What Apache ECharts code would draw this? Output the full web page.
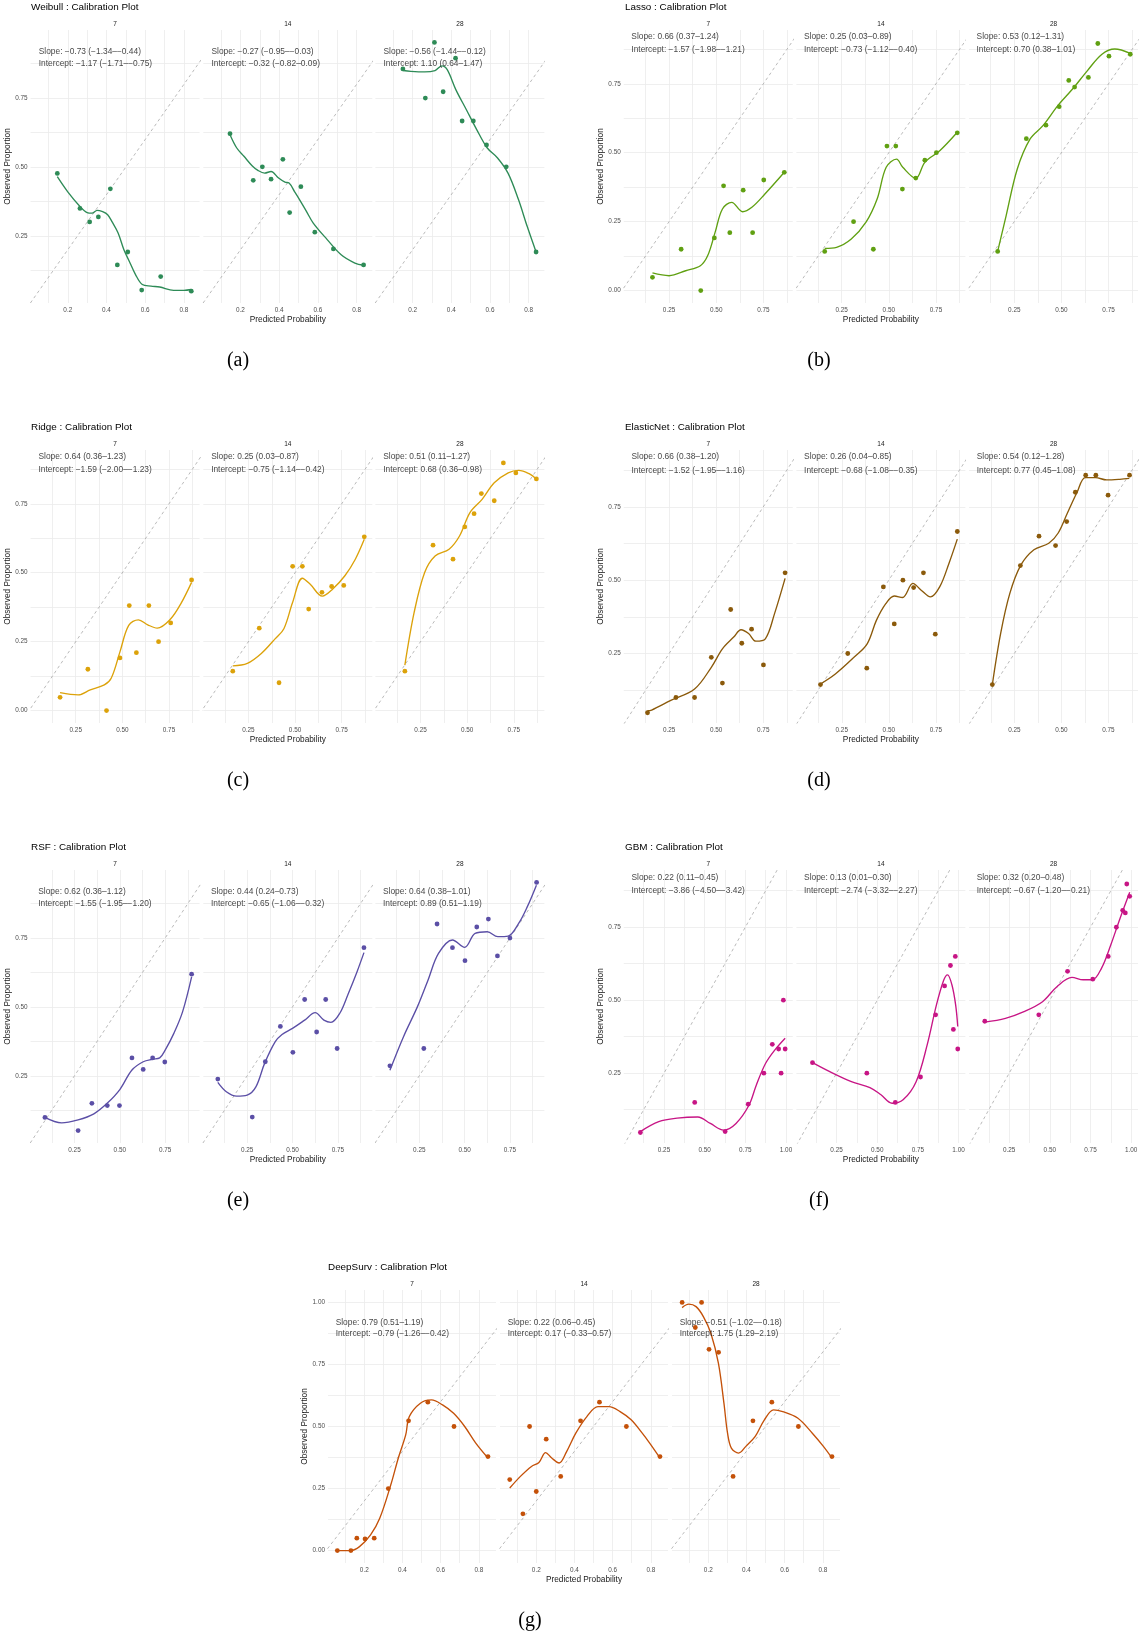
<!DOCTYPE html>
<html><head><meta charset="utf-8">
<script src="https://cdn.jsdelivr.net/npm/echarts@6/dist/echarts.min.js"></script>
<style>html,body{margin:0;padding:0;background:#fff}#c{width:1141px;height:1639px}</style>
</head><body><div id="c"></div>
<script>
// ---------------- DATA ----------------
const facetLabels = ['7', '14', '28'];
const modelNames = ['Weibull', 'Lasso', 'Ridge', 'ElasticNet', 'RSF', 'GBM', 'DeepSurv'];
const captions = ['(a)', '(b)', '(c)', '(d)', '(e)', '(f)', '(g)'];

const xTicksTenths = [0.2, 0.4, 0.6, 0.8];
const xTicksQuarters = [0.25, 0.5, 0.75];
const xTicksQuartersTo1 = [0.25, 0.5, 0.75, 1.0];
const yTicks = [0, 0.25, 0.5, 0.75, 1.0];

// Weibull
const weibull7Obs = [[0.146,0.477],[0.263,0.35],[0.313,0.301],[0.358,0.319],[0.42,0.421],[0.456,0.145],[0.51,0.192],[0.582,0.054],[0.68,0.103],[0.838,0.05]];
const weibull7Fit = [[0.146,0.465],[0.2,0.41],[0.263,0.357],[0.3,0.335],[0.325,0.333],[0.352,0.343],[0.38,0.338],[0.406,0.327],[0.43,0.3],[0.46,0.261],[0.49,0.2],[0.514,0.164],[0.55,0.11],[0.585,0.074],[0.63,0.068],[0.675,0.065],[0.747,0.053],[0.8,0.053],[0.838,0.056]];
const weibull14Obs = [[0.146,0.621],[0.266,0.452],[0.313,0.501],[0.358,0.456],[0.419,0.528],[0.454,0.335],[0.512,0.429],[0.584,0.264],[0.68,0.203],[0.836,0.145]];
const weibull14Fit = [[0.146,0.617],[0.18,0.57],[0.218,0.539],[0.26,0.505],[0.29,0.488],[0.325,0.478],[0.358,0.484],[0.397,0.46],[0.43,0.445],[0.451,0.442],[0.48,0.41],[0.505,0.382],[0.54,0.34],[0.576,0.297],[0.648,0.237],[0.72,0.182],[0.791,0.152],[0.836,0.144]];
const weibull28Obs = [[0.15,0.856],[0.266,0.75],[0.313,0.952],[0.358,0.773],[0.422,0.895],[0.456,0.667],[0.514,0.667],[0.582,0.58],[0.684,0.501],[0.838,0.192]];
const weibull28Fit = [[0.15,0.85],[0.191,0.847],[0.263,0.845],[0.316,0.85],[0.352,0.867],[0.379,0.853],[0.424,0.78],[0.478,0.708],[0.532,0.635],[0.586,0.569],[0.639,0.533],[0.693,0.478],[0.747,0.382],[0.792,0.285],[0.838,0.192]];
const weibullSlope = ['Slope: −0.73 (−1.34–−0.44)', 'Slope: −0.27 (−0.95–−0.03)', 'Slope: −0.56 (−1.44–−0.12)'];
const weibullIntercept = ['Intercept: −1.17 (−1.71–−0.75)', 'Intercept: −0.32 (−0.82–0.09)', 'Intercept: 1.10 (0.64–1.47)'];

// Lasso
const lasso7Obs = [[0.162,0.048],[0.314,0.15],[0.418,0.0],[0.49,0.191],[0.539,0.38],[0.572,0.21],[0.643,0.364],[0.693,0.21],[0.752,0.401],[0.861,0.429]];
const lasso7Fit = [[0.162,0.064],[0.25,0.054],[0.338,0.072],[0.416,0.09],[0.455,0.127],[0.494,0.211],[0.533,0.296],[0.582,0.32],[0.64,0.286],[0.689,0.302],[0.758,0.35],[0.861,0.429]];
const lasso14Obs = [[0.16,0.142],[0.313,0.25],[0.418,0.15],[0.49,0.524],[0.537,0.524],[0.572,0.368],[0.643,0.408],[0.691,0.473],[0.752,0.5],[0.863,0.572]];
const lasso14Fit = [[0.16,0.153],[0.223,0.157],[0.301,0.187],[0.379,0.248],[0.438,0.332],[0.486,0.447],[0.541,0.477],[0.574,0.447],[0.643,0.407],[0.691,0.465],[0.77,0.507],[0.863,0.574]];
const lasso28Obs = [[0.162,0.142],[0.314,0.551],[0.418,0.6],[0.488,0.667],[0.539,0.762],[0.57,0.738],[0.643,0.773],[0.693,0.896],[0.752,0.85],[0.865,0.857]];
const lasso28Fit = [[0.162,0.142],[0.207,0.272],[0.266,0.441],[0.334,0.55],[0.402,0.598],[0.48,0.67],[0.559,0.731],[0.637,0.797],[0.715,0.857],[0.783,0.876],[0.865,0.86]];
const lassoSlope = ['Slope: 0.66 (0.37–1.24)', 'Slope: 0.25 (0.03–0.89)', 'Slope: 0.53 (0.12–1.31)'];
const lassoIntercept = ['Intercept: −1.57 (−1.98–−1.21)', 'Intercept: −0.73 (−1.12–−0.40)', 'Intercept: 0.70 (0.38–1.01)'];

// Ridge
const ridge7Obs = [[0.166,0.048],[0.315,0.15],[0.415,0.0],[0.487,0.191],[0.537,0.381],[0.575,0.21],[0.642,0.381],[0.694,0.25],[0.759,0.318],[0.871,0.474]];
const ridge7Fit = [[0.166,0.065],[0.263,0.057],[0.328,0.075],[0.403,0.093],[0.44,0.117],[0.487,0.213],[0.534,0.309],[0.586,0.329],[0.636,0.311],[0.687,0.299],[0.757,0.331],[0.813,0.387],[0.871,0.465]];
const ridge14Obs = [[0.166,0.143],[0.308,0.299],[0.414,0.101],[0.487,0.523],[0.539,0.523],[0.573,0.368],[0.644,0.429],[0.696,0.45],[0.761,0.454],[0.871,0.63]];
const ridge14Fit = [[0.166,0.162],[0.244,0.171],[0.319,0.207],[0.394,0.261],[0.44,0.297],[0.487,0.393],[0.539,0.48],[0.58,0.459],[0.646,0.415],[0.702,0.441],[0.767,0.489],[0.823,0.549],[0.871,0.621]];
const ridge28Obs = [[0.166,0.143],[0.317,0.6],[0.424,0.549],[0.487,0.666],[0.537,0.714],[0.576,0.787],[0.645,0.761],[0.694,0.898],[0.761,0.862],[0.871,0.84]];
const ridge28Fit = [[0.166,0.165],[0.216,0.357],[0.272,0.501],[0.328,0.561],[0.403,0.585],[0.459,0.633],[0.515,0.718],[0.58,0.766],[0.645,0.826],[0.72,0.862],[0.776,0.871],[0.832,0.859],[0.871,0.84]];
const ridgeSlope = ['Slope: 0.64 (0.36–1.23)', 'Slope: 0.25 (0.03–0.87)', 'Slope: 0.51 (0.11–1.27)'];
const ridgeIntercept = ['Intercept: −1.59 (−2.00–−1.23)', 'Intercept: −0.75 (−1.14–−0.42)', 'Intercept: 0.68 (0.36–0.98)'];

// ElasticNet
const enet7Obs = [[0.135,0.048],[0.286,0.1],[0.385,0.1],[0.474,0.237],[0.533,0.149],[0.577,0.4],[0.636,0.285],[0.688,0.333],[0.751,0.211],[0.866,0.525]];
const enet7Fit = [[0.135,0.055],[0.157,0.057],[0.256,0.089],[0.385,0.129],[0.474,0.203],[0.533,0.266],[0.593,0.306],[0.632,0.331],[0.672,0.318],[0.711,0.292],[0.761,0.3],[0.81,0.386],[0.866,0.506]];
const enet14Obs = [[0.137,0.144],[0.282,0.25],[0.383,0.2],[0.471,0.477],[0.529,0.351],[0.575,0.5],[0.632,0.475],[0.684,0.525],[0.747,0.316],[0.864,0.666]];
const enet14Fit = [[0.137,0.146],[0.216,0.18],[0.315,0.237],[0.385,0.283],[0.434,0.363],[0.484,0.42],[0.529,0.446],[0.573,0.441],[0.628,0.489],[0.672,0.466],[0.721,0.443],[0.771,0.478],[0.82,0.558],[0.864,0.64]];
const enet28Obs = [[0.133,0.144],[0.282,0.55],[0.381,0.65],[0.469,0.618],[0.528,0.7],[0.574,0.8],[0.629,0.858],[0.683,0.858],[0.748,0.79],[0.862,0.858]];
const enet28Fit = [[0.133,0.144],[0.177,0.318],[0.226,0.455],[0.285,0.552],[0.354,0.604],[0.433,0.626],[0.483,0.661],[0.532,0.729],[0.582,0.798],[0.627,0.85],[0.681,0.85],[0.74,0.842],[0.81,0.844],[0.861,0.847]];
const enetSlope = ['Slope: 0.66 (0.38–1.20)', 'Slope: 0.26 (0.04–0.85)', 'Slope: 0.54 (0.12–1.28)'];
const enetIntercept = ['Intercept: −1.52 (−1.95–−1.16)', 'Intercept: −0.68 (−1.08–−0.35)', 'Intercept: 0.77 (0.45–1.08)'];

// RSF
const rsf7Obs = [[0.087,0.099],[0.27,0.051],[0.346,0.15],[0.431,0.142],[0.498,0.142],[0.567,0.315],[0.629,0.273],[0.681,0.315],[0.748,0.3],[0.896,0.619]];
const rsf7Fit = [[0.087,0.099],[0.179,0.079],[0.27,0.09],[0.357,0.112],[0.43,0.15],[0.5,0.2],[0.567,0.271],[0.629,0.301],[0.68,0.31],[0.72,0.315],[0.75,0.343],[0.798,0.404],[0.846,0.482],[0.896,0.609]];
const rsf14Obs = [[0.088,0.238],[0.278,0.1],[0.35,0.301],[0.433,0.429],[0.502,0.335],[0.567,0.527],[0.633,0.409],[0.683,0.527],[0.746,0.349],[0.894,0.715]];
const rsf14Fit = [[0.088,0.226],[0.135,0.192],[0.192,0.176],[0.25,0.18],[0.298,0.21],[0.346,0.295],[0.404,0.373],[0.442,0.4],[0.5,0.422],[0.567,0.452],[0.625,0.479],[0.673,0.452],[0.712,0.444],[0.76,0.476],[0.808,0.549],[0.856,0.628],[0.894,0.697]];
const rsf28Obs = [[0.088,0.286],[0.275,0.349],[0.348,0.801],[0.433,0.715],[0.502,0.668],[0.567,0.79],[0.631,0.819],[0.681,0.685],[0.75,0.75],[0.897,0.952]];
const rsf28Fit = [[0.088,0.27],[0.163,0.392],[0.24,0.501],[0.298,0.597],[0.356,0.694],[0.433,0.743],[0.5,0.716],[0.558,0.767],[0.625,0.773],[0.683,0.755],[0.74,0.757],[0.798,0.803],[0.846,0.864],[0.896,0.942]];
const rsfSlope = ['Slope: 0.62 (0.36–1.12)', 'Slope: 0.44 (0.24–0.73)', 'Slope: 0.64 (0.38–1.01)'];
const rsfIntercept = ['Intercept: −1.55 (−1.95–−1.20)', 'Intercept: −0.65 (−1.06–−0.32)', 'Intercept: 0.89 (0.51–1.19)'];

// GBM
const gbm7Obs = [[0.105,0.047],[0.439,0.15],[0.626,0.05],[0.768,0.144],[0.864,0.25],[0.916,0.349],[0.955,0.333],[0.97,0.25],[0.984,0.5],[0.995,0.333]];
const gbm7Fit = [[0.105,0.05],[0.218,0.084],[0.331,0.096],[0.458,0.1],[0.535,0.078],[0.617,0.055],[0.693,0.078],[0.773,0.141],[0.818,0.21],[0.875,0.284],[0.932,0.33],[0.995,0.37]];
const gbm14Obs = [[0.102,0.286],[0.436,0.25],[0.611,0.15],[0.766,0.237],[0.859,0.45],[0.914,0.549],[0.95,0.619],[0.98,0.65],[0.968,0.4],[0.995,0.333]];
const gbm14Fit = [[0.102,0.286],[0.205,0.256],[0.341,0.221],[0.455,0.201],[0.523,0.176],[0.591,0.147],[0.659,0.159],[0.739,0.221],[0.807,0.347],[0.864,0.484],[0.909,0.569],[0.932,0.587],[0.959,0.553],[0.982,0.484],[0.995,0.41]];
const gbm28Obs = [[0.1,0.428],[0.432,0.45],[0.609,0.599],[0.764,0.572],[0.859,0.65],[0.909,0.75],[0.948,0.808],[0.964,0.799],[0.973,0.898],[0.991,0.856]];
const gbm28Fit = [[0.1,0.425],[0.227,0.438],[0.341,0.461],[0.455,0.495],[0.545,0.547],[0.636,0.578],[0.705,0.57],[0.761,0.57],[0.818,0.61],[0.875,0.69],[0.932,0.781],[0.991,0.87]];
const gbmSlope = ['Slope: 0.22 (0.11–0.45)', 'Slope: 0.13 (0.01–0.30)', 'Slope: 0.32 (0.20–0.48)'];
const gbmIntercept = ['Intercept: −3.86 (−4.50–−3.42)', 'Intercept: −2.74 (−3.32–−2.27)', 'Intercept: −0.67 (−1.20–−0.21)'];

// DeepSurv
const deep7Obs = [[0.059,0.0],[0.13,0.0],[0.161,0.05],[0.204,0.047],[0.252,0.05],[0.326,0.25],[0.432,0.523],[0.533,0.598],[0.67,0.5],[0.848,0.379]];
const deep7Fit = [[0.059,0.0],[0.13,0.0],[0.175,0.016],[0.233,0.063],[0.281,0.13],[0.339,0.265],[0.378,0.372],[0.417,0.466],[0.436,0.54],[0.494,0.594],[0.552,0.607],[0.61,0.587],[0.668,0.553],[0.726,0.5],[0.784,0.433],[0.848,0.373]];
const deep14Obs = [[0.061,0.286],[0.13,0.148],[0.165,0.5],[0.2,0.238],[0.252,0.449],[0.328,0.299],[0.432,0.523],[0.531,0.598],[0.672,0.5],[0.848,0.379]];
const deep14Fit = [[0.061,0.252],[0.117,0.299],[0.175,0.339],[0.214,0.355],[0.249,0.395],[0.281,0.373],[0.32,0.353],[0.359,0.399],[0.407,0.473],[0.465,0.54],[0.523,0.58],[0.581,0.58],[0.639,0.56],[0.697,0.527],[0.755,0.473],[0.794,0.433],[0.848,0.373]];
const deep28Obs = [[0.063,1.0],[0.132,0.899],[0.165,1.0],[0.204,0.811],[0.254,0.799],[0.33,0.299],[0.434,0.523],[0.533,0.598],[0.672,0.5],[0.848,0.379]];
const deep28Fit = [[0.063,0.979],[0.098,0.993],[0.136,0.983],[0.175,0.942],[0.214,0.875],[0.253,0.755],[0.282,0.594],[0.301,0.473],[0.321,0.413],[0.359,0.393],[0.397,0.42],[0.446,0.46],[0.494,0.527],[0.542,0.567],[0.59,0.56],[0.668,0.534],[0.745,0.473],[0.803,0.42],[0.848,0.373]];
const deepSlope = ['Slope: 0.79 (0.51–1.19)', 'Slope: 0.22 (0.06–0.45)', 'Slope: −0.51 (−1.02–−0.18)'];
const deepIntercept = ['Intercept: −0.79 (−1.26–−0.42)', 'Intercept: 0.17 (−0.33–0.57)', 'Intercept: 1.75 (1.29–2.19)'];

// annotation anchor (data units)
const annotX = 0.05;
const annotY = [0.92, 0.875];

// ---------------- LAYOUT ----------------
const FF = '"Liberation Sans", Arial, sans-serif';
const rowTops = [0, 420, 840, 1260];
const colLeft = [30.6, 203.3, 375.4];
const colRight = [623.8, 796.4, 969];
const colMid = [328, 500, 672];

const panels = [
  {name: modelNames[0], color: '#2E8B57', obs: [weibull7Obs, weibull14Obs, weibull28Obs], fit: [weibull7Fit, weibull14Fit, weibull28Fit], slope: weibullSlope, icpt: weibullIntercept, xr: [0.008, 0.881], yr: [0.007, 0.997], xt: xTicksTenths, xd: 1, row: 0, cols: colLeft, fw: 169, titleX: 31, cap: captions[0], capX: 238},
  {name: modelNames[1], color: '#60A012', obs: [lasso7Obs, lasso14Obs, lasso28Obs], fit: [lasso7Fit, lasso14Fit, lasso28Fit], slope: lassoSlope, icpt: lassoIntercept, xr: [0.01, 0.906], yr: [-0.045, 0.945], xt: xTicksQuarters, xd: 2, row: 0, cols: colRight, fw: 169, titleX: 625, cap: captions[1], capX: 819},
  {name: modelNames[2], color: '#DCA20A', obs: [ridge7Obs, ridge14Obs, ridge28Obs], fit: [ridge7Fit, ridge14Fit, ridge28Fit], slope: ridgeSlope, icpt: ridgeIntercept, xr: [0.008, 0.914], yr: [-0.045, 0.945], xt: xTicksQuarters, xd: 2, row: 1, cols: colLeft, fw: 169, titleX: 31, cap: captions[2], capX: 238},
  {name: modelNames[3], color: '#8B5A0B', obs: [enet7Obs, enet14Obs, enet28Obs], fit: [enet7Fit, enet14Fit, enet28Fit], slope: enetSlope, icpt: enetIntercept, xr: [0.009, 0.907], yr: [0.013, 0.944], xt: xTicksQuarters, xd: 2, row: 1, cols: colRight, fw: 169, titleX: 625, cap: captions[3], capX: 819},
  {name: modelNames[4], color: '#5B4FA6', obs: [rsf7Obs, rsf14Obs, rsf28Obs], fit: [rsf7Fit, rsf14Fit, rsf28Fit], slope: rsfSlope, icpt: rsfIntercept, xr: [0.008, 0.94], yr: [0.006, 0.997], xt: xTicksQuarters, xd: 2, row: 2, cols: colLeft, fw: 169, titleX: 31, cap: captions[4], capX: 238},
  {name: modelNames[5], color: '#C71585', obs: [gbm7Obs, gbm14Obs, gbm28Obs], fit: [gbm7Fit, gbm14Fit, gbm28Fit], slope: gbmSlope, icpt: gbmIntercept, xr: [0.003, 1.042], yr: [0.011, 0.946], xt: xTicksQuartersTo1, xd: 2, row: 2, cols: colRight, fw: 169, titleX: 625, cap: captions[5], capX: 819},
  {name: modelNames[6], color: '#C45109', obs: [deep7Obs, deep14Obs, deep28Obs], fit: [deep7Fit, deep14Fit, deep28Fit], slope: deepSlope, icpt: deepIntercept, xr: [0.01, 0.89], yr: [-0.05, 1.05], xt: xTicksTenths, xd: 1, row: 3, cols: colMid, fw: 168, titleX: 328, cap: captions[6], capX: 530}
];

function gridValues(range, step) {
  const out = [];
  const k0 = Math.ceil(range[0] / step - 1e-9), k1 = Math.floor(range[1] / step + 1e-9);
  for (let k = k0; k <= k1; k++) out.push(Math.round(k * step * 1e6) / 1e6);
  return out;
}

const option = {animation: false, backgroundColor: '#ffffff', grid: [], xAxis: [], yAxis: [], series: [], graphic: []};
const PLOT_TOP = 30, PLOT_H = 273;

function txt(x, y, text, size, fill, align, family) {
  return {type: 'text', x: x, y: y, silent: true, z: 10,
    style: {text: text, fontSize: size, fontFamily: family || FF, fill: fill, align: align, verticalAlign: 'middle', textAlign: align, textVerticalAlign: 'middle'}};
}

panels.forEach(p => {
  const R = rowTops[p.row];
  option.graphic.push(txt(p.titleX, R + 7.5, p.name + ' : Calibration Plot', 9.9, '#000000', 'left'));
  option.graphic.push(txt(p.capX, R + 361, p.cap, 20, '#000000', 'center', '"Liberation Serif", "Times New Roman", serif'));
  const xStep = p.xd === 1 ? 0.1 : 0.125;
  const xGrid = gridValues(p.xr, xStep);
  const yGrid = gridValues(p.yr, 0.125);
  for (let f = 0; f < 3; f++) {
    const gi = option.grid.length;
    const left = p.cols[f];
    option.graphic.push(txt(left + p.fw / 2, R + 24.5, facetLabels[f], 6.5, '#1A1A1A', 'center'));
    option.grid.push({left: left, top: R + PLOT_TOP, width: p.fw, height: PLOT_H, containLabel: false});
    option.xAxis.push({
      gridIndex: gi, type: 'value', min: p.xr[0], max: p.xr[1],
      axisLine: {show: false}, axisTick: {show: false, customValues: xGrid},
      axisLabel: {show: true, customValues: p.xt, formatter: v => v.toFixed(p.xd), fontSize: 6.4, color: '#4D4D4D', margin: 4.5, fontFamily: FF},
      splitLine: {show: true, lineStyle: {color: '#EBEBEB', width: 0.8}},
      name: f === 1 ? 'Predicted Probability' : '', nameLocation: 'middle', nameGap: 12.5,
      nameTextStyle: {fontSize: 8.3, color: '#1A1A1A', fontFamily: FF, verticalAlign: 'top'}
    });
    option.yAxis.push({
      gridIndex: gi, type: 'value', min: p.yr[0], max: p.yr[1],
      axisLine: {show: false}, axisTick: {show: false, customValues: yGrid},
      axisLabel: {show: f === 0, customValues: yTicks, formatter: v => v.toFixed(2), fontSize: 6.4, color: '#4D4D4D', margin: 3, fontFamily: FF},
      splitLine: {show: true, lineStyle: {color: '#EBEBEB', width: 0.8}},
      name: f === 0 ? 'Observed Proportion' : '', nameLocation: 'middle', nameRotate: 90, nameGap: 19,
      nameTextStyle: {fontSize: 8.3, color: '#1A1A1A', fontFamily: FF}
    });
    const lo = Math.min(p.xr[0], p.yr[0]), hi = Math.max(p.xr[1], p.yr[1]);
    option.series.push({type: 'line', xAxisIndex: gi, yAxisIndex: gi, data: [[lo, lo], [hi, hi]], showSymbol: false, silent: true, clip: true, z: 1,
      lineStyle: {color: '#A8A8A8', width: 0.8, type: [3, 3]}});
    option.series.push({type: 'line', xAxisIndex: gi, yAxisIndex: gi, data: p.fit[f], smooth: 0.35, showSymbol: false, silent: true, clip: true, z: 3,
      lineStyle: {color: p.color, width: 1.35}});
    option.series.push({type: 'scatter', xAxisIndex: gi, yAxisIndex: gi, data: p.obs[f], symbolSize: 4.8, silent: true, z: 4,
      itemStyle: {color: p.color, opacity: 1}});
    option.series.push({type: 'scatter', xAxisIndex: gi, yAxisIndex: gi, symbolSize: 0, silent: true, z: 5, clip: false,
      data: [{value: [annotX, annotY[0]], label: {formatter: p.slope[f]}}, {value: [annotX, annotY[1]], label: {formatter: p.icpt[f]}}],
      label: {show: true, position: 'right', distance: 0, fontSize: 8.4, color: '#111111', fontFamily: FF}});
  }
});

const chart = echarts.init(document.getElementById('c'), null, {renderer: 'canvas'});
chart.setOption(option);
</script>
</body></html>
